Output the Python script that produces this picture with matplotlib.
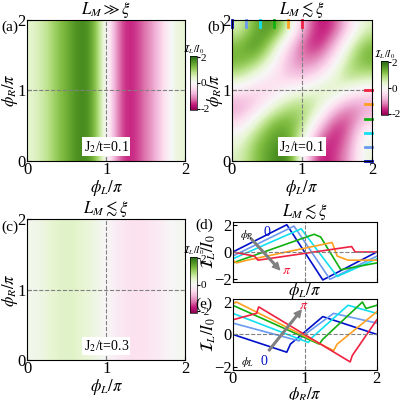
import numpy as np
import matplotlib.pyplot as plt

plt.rcParams['font.family'] = ['Liberation Serif', 'DejaVu Serif']
plt.rcParams['mathtext.fontset'] = 'stix'
plt.rcParams['font.size'] = 12

# grid points (units of pi)
grid = [0, 0.25, 0.5, 0.75, 1.0, 1.25, 1.5, 1.75, 2.0]

# (a) current vs phi_L only
prof_a = [0.4, 1.0, 1.5, 2.0, 0.1, -1.9, -1.4, -0.8, 0.4]
# (b) rows phi_R = grid, cols phi_L = grid
map_b = [
    [0.5, 1.2, 1.6, 2.0, 0.0, -1.8, -1.6, -1.0, 0.3],
    [0.2, 1.0, 1.5, 1.6, 0.5, -1.2, -1.8, -1.2, 0.2],
    [-0.5, 0.3, 1.2, 1.4, 1.0, -0.3, -1.5, -1.5, -0.5],
    [-1.0, -0.6, 0.2, 0.8, 1.0, 0.6, -0.5, -1.2, -1.0],
    [-0.3, -0.6, -0.5, 0.0, 0.2, 0.5, 0.6, 0.0, -0.3],
    [0.8, 0.2, -0.3, -0.7, -0.8, -0.4, 0.3, 1.0, 0.8],
    [1.4, 1.2, 0.3, -0.8, -1.3, -1.2, -0.3, 0.8, 1.4],
    [1.2, 1.8, 1.0, -0.3, -1.4, -1.8, -1.0, 0.3, 1.2],
    [0.5, 1.4, 1.8, 0.8, -0.8, -1.8, -1.6, -0.5, 0.5],
]
# (c) weak current vs phi_L
prof_c = [0.1, 0.45, 0.5, 0.35, 0.0, -0.35, -0.4, -0.25, 0.1]

colors = ['#0010c8', '#6a9af0', '#10e0f0', '#10b010', '#ffa020', '#f02040']
ticks_pos = [0, 0.2, 0.4, 0.6, 0.8, 1.0]

# (d) I_L vs phi_L for phi_R = 0..pi
d_x = [
    [0, 0.75, 1.25, 2],
    [0, 0.85, 1.35, 2],
    [0, 0.95, 1.45, 2],
    [0, 1.13, 1.22, 1.5, 2],
    [0, 0.05, 0.2, 1.38, 1.45, 1.6, 2],
    [0, 0.3, 0.35, 1.65, 1.7, 2],
]
d_y = [
    [0, 2.0, -2.05, 0],
    [-0.3, 1.9, -2.0, -0.3],
    [-0.5, 1.7, -1.8, -0.5],
    [-0.8, 1.3, 1.1, -1.3, -0.8],
    [-0.6, -0.8, -0.6, 0.7, -0.3, -0.6, -0.6],
    [0, -0.3, -0.6, 0.4, 0.0, 0.0],
]
# (e) I_L vs phi_R for phi_L = 0..pi
e_x = [
    [0, 0.75, 0.8, 1.25, 2],
    [0, 0.92, 0.97, 1.4, 2],
    [0, 1.05, 1.1, 1.6, 2],
    [0, 1.2, 1.25, 1.8, 1.85, 2],
    [0, 0.05, 1.4, 1.45, 2],
    [0, 0.33, 0.36, 1.63, 1.66, 2],
]
e_y = [
    [0, -1.1, -0.6, 1.1, 0],
    [0.7, -0.4, -0.1, 1.3, 0.7],
    [1.3, -0.5, -0.2, 1.8, 1.3],
    [1.8, -0.6, -0.3, 2.0, 1.6, 1.8],
    [1.9, 2.0, -1.0, -0.6, 1.4],
    [0.9, 1.3, 1.7, -1.7, -1.3, 0.9],
]

fig = plt.figure(figsize=(4, 4), dpi=100)

def heat(rect, data, title, label, text, cbrect):
    ax = fig.add_axes(rect)
    im = ax.imshow(np.array(data), origin='lower', extent=[0, 2, 0, 2], aspect='auto',
                   cmap='PiYG', vmin=-2.1, vmax=2.1, interpolation='bicubic')
    ax.axhline(1, color='gray', ls='--', lw=0.8)
    ax.axvline(1, color='gray', ls='--', lw=0.8)
    ax.set_xticks([0, 1, 2])
    ax.set_yticks([0, 1, 2])
    ax.tick_params(direction='in', length=3, pad=1)
    ax.set_xlabel(r'$\phi_L/\pi$', labelpad=0)
    ax.set_ylabel(r'$\phi_R/\pi$', labelpad=-2)
    ax.set_title(title, fontsize=12, pad=1)
    ax.text(-0.11, 0.92, label, transform=ax.transAxes, fontsize=11, ha='center')
    ax.text(1.0, 0.2, text, ha='center', va='center', fontsize=10,
            bbox=dict(facecolor='white', edgecolor='none', pad=1))
    cax = fig.add_axes(cbrect)
    cb = fig.colorbar(im, cax=cax, ticks=[-2, 0, 2])
    cb.ax.set_yticklabels(['-2', '0', '2'])
    cb.ax.tick_params(labelsize=8, length=2, pad=1)
    cb.outline.set_linewidth(0.5)
    cax.set_title(r'$\mathcal{I}_L/I_0$', fontsize=7, pad=1)
    return ax

heat([0.068, 0.598, 0.395, 0.352], np.tile(prof_a, (3, 1)), r'$L_M \gg \xi$', '(a)',
     r'J$_2$/t=0.1', [0.475, 0.725, 0.017, 0.135])
axb = heat([0.58, 0.598, 0.35, 0.352], map_b, r'$L_M \lesssim \xi$', '(b)',
           r'J$_2$/t=0.1', [0.952, 0.712, 0.017, 0.135])
for p, c in zip(ticks_pos, colors):
    axb.plot([p, p], [1.9, 2.0], color=c, lw=2, clip_on=False)
    axb.plot([1.9, 2.0], [p, p], color=c, lw=2, clip_on=False)
heat([0.068, 0.1, 0.395, 0.352], np.tile(prof_c, (3, 1)), r'$L_M \lesssim \xi$', '(c)',
     r'J$_2$/t=0.3', [0.475, 0.218, 0.017, 0.14])

def lines(rect, xs, ys, label, xlab, title=None):
    ax = fig.add_axes(rect)
    for x, y, c in zip(xs, ys, colors):
        ax.plot(x, y, color=c, lw=1.2)
    ax.axhline(0, color='gray', ls='--', lw=0.8)
    ax.axvline(1, color='gray', ls='--', lw=0.8)
    ax.set_xlim(0, 2)
    ax.set_ylim(-2.2, 2.2)
    ax.set_xticks([0, 1, 2])
    ax.set_yticks([-2, 0, 2])
    ax.tick_params(direction='in', length=3, pad=1)
    ax.set_xlabel(xlab, labelpad=-2)
    ax.set_ylabel(r'$\mathcal{I}_L/I_0$', labelpad=-3)
    ax.text(-0.2, 0.88, label, transform=ax.transAxes, fontsize=11, ha='center')
    if title:
        ax.set_title(title, fontsize=12, pad=1)
    return ax

axd = lines([0.582, 0.295, 0.36, 0.15], d_x, d_y, '(d)', r'$\phi_L/\pi$', r'$L_M \lesssim \xi$')
axd.set_xticklabels([])
axd.annotate('', xy=(0.65, -1.3), xytext=(0.25, 1.0),
             arrowprops=dict(color='gray', width=1.2, headwidth=5, headlength=5))
axd.text(0.1, 1.05, r'$\phi_R$', fontsize=8)
axd.text(0.42, 1.2, '0', color=colors[0], fontsize=10)
axd.text(0.68, -1.6, r'$\pi$', color=colors[5], fontsize=10)

axe = lines([0.582, 0.075, 0.36, 0.178], e_x, e_y, '(e)', r'$\phi_R/\pi$')
axe.annotate('', xy=(0.95, 1.5), xytext=(0.5, -1.0),
             arrowprops=dict(color='gray', width=1.2, headwidth=5, headlength=5))
axe.text(0.12, -1.9, r'$\phi_L$', fontsize=8)
axe.text(0.38, -1.9, '0', color=colors[0], fontsize=10)
axe.text(0.92, 1.6, r'$\pi$', color=colors[5], fontsize=10)

fig.savefig('out.png', dpi=100)
